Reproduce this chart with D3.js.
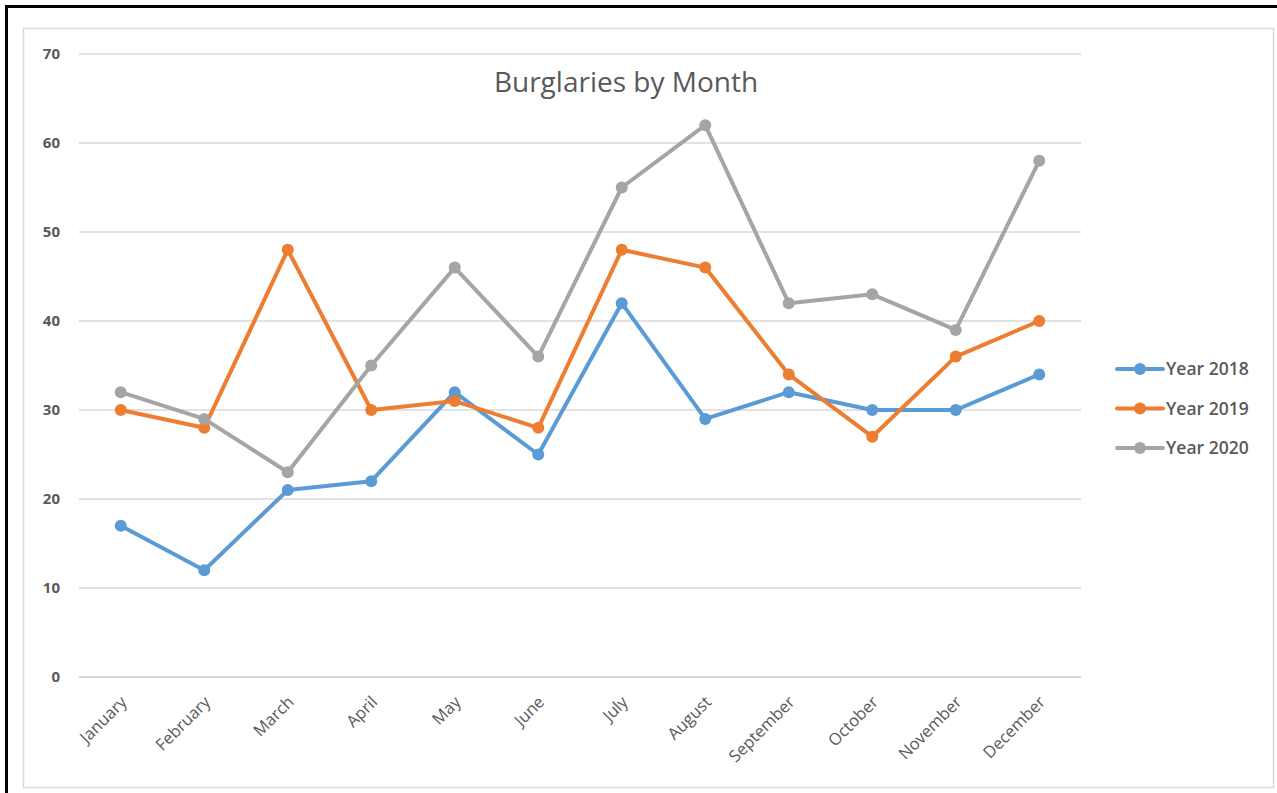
<!DOCTYPE html>
<html>
<head>
<meta charset="utf-8">
<script src="https://cdnjs.cloudflare.com/ajax/libs/d3/7.8.5/d3.min.js"></script>
<style>
    body { margin: 0; background: #fff; }
    svg { display: block; }
</style>
</head>
<body>
<svg id="chart" width="1277" height="793"></svg>
<script>
var months = ["January", "February", "March", "April", "May", "June", "July",
    "August", "September", "October", "November", "December"];
var year2018 = [17, 12, 21, 22, 32, 25, 42, 29, 32, 30, 30, 34];
var year2019 = [30, 28, 48, 30, 31, 28, 48, 46, 34, 27, 36, 40];
var year2020 = [32, 29, 23, 35, 46, 36, 55, 62, 42, 43, 39, 58];
var yTicks = [0, 10, 20, 30, 40, 50, 60, 70];

var series = [
    { name: "Year 2018", values: year2018, color: "#5b9bd5" },
    { name: "Year 2019", values: year2019, color: "#ed7d31" },
    { name: "Year 2020", values: year2020, color: "#a5a5a5" }
];

var svg = d3.select("#chart");
var textColor = "#595959";

// outer frame (screenshot border) and chart area border
svg.append("rect").attr("x", 6.5).attr("y", 6.5).attr("width", 1290).attr("height", 800)
    .attr("fill", "none").attr("stroke", "#000").attr("stroke-width", 3);
svg.append("rect").attr("x", 23.5).attr("y", 28.5).attr("width", 1250).attr("height", 759)
    .attr("fill", "#fff").attr("stroke", "#d9d9d9").attr("stroke-width", 1.5);

var x = d3.scaleBand().domain(months).range([79, 1081]);
var y = d3.scaleLinear().domain([0, 70]).range([677, 54]);

// gridlines
svg.append("g").selectAll("line").data(yTicks).enter().append("line")
    .attr("x1", 79).attr("x2", 1081)
    .attr("y1", d => y(d)).attr("y2", d => y(d))
    .attr("stroke", "#d9d9d9").attr("stroke-width", d => d == 0 ? 2 : 1.5);

// y axis
var yAxis = svg.append("g").attr("transform", "translate(66,0)")
    .call(d3.axisLeft(y).tickValues(yTicks).tickSize(0).tickPadding(6));
yAxis.select(".domain").remove();
yAxis.selectAll("text").attr("fill", textColor)
    .style("font-family", "'Open Sans', sans-serif").style("font-size", "15px").style("font-weight", "bold");

// x axis
var xAxis = svg.append("g").attr("transform", "translate(0,677)")
    .call(d3.axisBottom(x).tickSize(0));
xAxis.select(".domain").remove();
xAxis.selectAll("text")
    .attr("fill", textColor)
    .style("font-family", "'Open Sans', sans-serif").style("font-size", "16.5px")
    .attr("text-anchor", "end")
    .attr("transform", "translate(3,22) rotate(-45)")
    .attr("dy", "0.35em").attr("y", 0);

// title
svg.append("text").attr("x", 626).attr("y", 92).attr("text-anchor", "middle")
    .attr("fill", textColor)
    .style("font-family", "'Open Sans', sans-serif").style("font-size", "28px")
    .text("Burglaries by Month");

var line = d3.line()
    .x((d, i) => x(months[i]) + x.bandwidth() / 2)
    .y(d => y(d));

var groups = svg.append("g").selectAll("g").data(series).enter().append("g");

groups.append("path")
    .attr("d", d => line(d.values))
    .attr("fill", "none")
    .attr("stroke", d => d.color)
    .attr("stroke-width", 4)
    .attr("stroke-linejoin", "round")
    .attr("stroke-linecap", "round");

groups.each(function (s) {
    d3.select(this).selectAll("circle").data(s.values).enter().append("circle")
        .attr("cx", (d, i) => x(months[i]) + x.bandwidth() / 2)
        .attr("cy", d => y(d))
        .attr("r", 6)
        .attr("fill", s.color);
});

// legend
var legend = svg.append("g").selectAll("g").data(series).enter().append("g")
    .attr("transform", (d, i) => "translate(1117," + (369 + i * 39.5) + ")");

legend.append("line").attr("x1", 0).attr("x2", 46)
    .attr("stroke", d => d.color).attr("stroke-width", 4).attr("stroke-linecap", "round");
legend.append("circle").attr("cx", 23).attr("r", 6).attr("fill", d => d.color);
legend.append("text").attr("x", 49).attr("dy", "0.35em")
    .attr("fill", textColor)
    .style("font-family", "'Open Sans', sans-serif").style("font-size", "17.5px").style("font-weight", "600")
    .text(d => d.name);
</script>
</body>
</html>
